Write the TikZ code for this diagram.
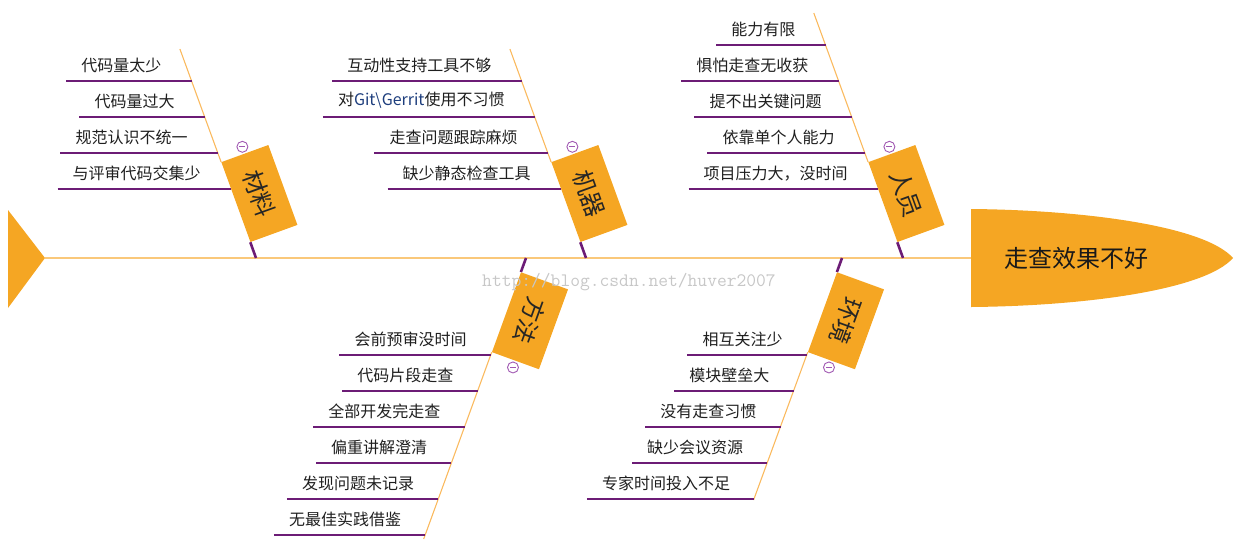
\documentclass[tikz,border=0pt]{standalone}
\usepackage{fontspec}
\newfontfamily\cjk{Noto Sans CJK SC}
\usetikzlibrary{positioning,calc}
\definecolor{boxorange}{RGB}{245,166,35}
\definecolor{spineorange}{RGB}{250,200,122}
\definecolor{boneorange}{RGB}{250,186,95}
\definecolor{subpurple}{RGB}{108,28,118}
\definecolor{markpurple}{RGB}{160,88,178}
\definecolor{gitblue}{RGB}{30,62,125}
\tikzset{
x=1pt,
y=1pt,
spine/.style={draw=spineorange, line width=1.8pt},
bone/.style={draw=boneorange, line width=1.1pt},
subline/.style={draw=subpurple, line width=2.6pt},
}

\begin{document}
\begin{tikzpicture}
    [cause/.style={font=\cjk\fontsize{16}{19}\selectfont, inner sep=0pt, text=black!88},
    catbox/.style={fill=boxorange, minimum width=85pt, minimum height=50pt, inner sep=0pt,
        font=\cjk\fontsize{24}{28}\selectfont, text=black!85},
    fold/.style={circle, draw=markpurple, fill=white, line width=0.9pt, minimum size=11pt, inner sep=0pt,
        path picture={\draw[markpurple, line width=0.9pt]
            ([xshift=2.5pt]path picture bounding box.west) -- ([xshift=-2.5pt]path picture bounding box.east);}}
    ]

    \useasboundingbox (0,0) rectangle (1240,-542);

    \fill[boxorange] (8,-210) -- (45,-258) -- (8,-308) -- cycle;
    \coordinate (tail) at (45,-258);
    \fill[boxorange] (971,-209) .. controls (1085,-210) and (1205,-226) .. (1233,-258)
        .. controls (1205,-290) and (1085,-306) .. (971,-307) -- cycle;
    \coordinate (neck) at (971,-258);
    \node [font=\cjk\fontsize{24}{28}\selectfont, text=black!90] (head) at (1076,-258) {走查效果不好};
    \draw[spine] (tail) -- (neck);

    \coordinate (cl0) at (256,-258);
    \coordinate (clt) at (179.9,-49);
    \coordinate (clb) at (221.1,-162);
    \node [catbox, rotate=-70, anchor=south west] (cl) at (clb) {材料};
    \draw[bone] (clt) -- (cl.south west);
    \draw[subline] (cl.south east) -- (cl0);
    \node [fold] (clf) at ($(cl.west)!-7pt!(cl.east)$) {};

    \coordinate (cl1) at (191.6,-81);
    \coordinate (cl2) at (204.7,-117);
    \coordinate (cl3) at (217.8,-153);
    \coordinate (cl4) at (230.9,-189);
    \node [cause] (cl1t) [above left=8pt and 30pt of cl1] {代码量太少};
    \node [cause] (cl2t) [above left=8pt and 30pt of cl2] {代码量过大};
    \node [cause] (cl3t) [above left=8pt and 30pt of cl3] {规范认识不统一};
    \node [cause] (cl4t) [above left=8pt and 30pt of cl4] {与评审代码交集少};
    \draw[subline] ([xshift=-15pt]cl1t.west |- cl1) -- (cl1);
    \draw[subline] ([xshift=-15pt]cl2t.west |- cl2) -- (cl2);
    \draw[subline] ([xshift=-15pt]cl3t.west |- cl3) -- (cl3);
    \draw[subline] ([xshift=-15pt]cl4t.west |- cl4) -- (cl4);

    \coordinate (jq0) at (586,-258);
    \coordinate (jqt) at (509.9,-49);
    \coordinate (jqb) at (551.1,-162);
    \node [catbox, rotate=-70, anchor=south west] (jq) at (jqb) {机器};
    \draw[bone] (jqt) -- (jq.south west);
    \draw[subline] (jq.south east) -- (jq0);
    \node [fold] (jqf) at ($(jq.west)!-7pt!(jq.east)$) {};

    \coordinate (jq1) at (521.6,-81);
    \coordinate (jq2) at (534.7,-117);
    \coordinate (jq3) at (547.8,-153);
    \coordinate (jq4) at (560.9,-189);
    \node [cause] (jq1t) [above left=8pt and 30pt of jq1] {互动性支持工具不够};
    \node [cause] (jq2t) [above left=8pt and 30pt of jq2] {对{\color{gitblue}Git\textbackslash Gerrit}使用不习惯};
    \node [cause] (jq3t) [above left=8pt and 30pt of jq3] {走查问题跟踪麻烦};
    \node [cause] (jq4t) [above left=8pt and 30pt of jq4] {缺少静态检查工具};
    \draw[subline] ([xshift=-15pt]jq1t.west |- jq1) -- (jq1);
    \draw[subline] ([xshift=-15pt]jq2t.west |- jq2) -- (jq2);
    \draw[subline] ([xshift=-15pt]jq3t.west |- jq3) -- (jq3);
    \draw[subline] ([xshift=-15pt]jq4t.west |- jq4) -- (jq4);

    \coordinate (ry0) at (903,-258);
    \coordinate (ryt) at (813.8,-13);
    \coordinate (ryb) at (868.1,-162);
    \node [catbox, rotate=-70, anchor=south west] (ry) at (ryb) {人员};
    \draw[bone] (ryt) -- (ry.south west);
    \draw[subline] (ry.south east) -- (ry0);
    \node [fold] (ryf) at ($(ry.west)!-7pt!(ry.east)$) {};

    \coordinate (ry1) at (825.5,-45);
    \coordinate (ry2) at (838.6,-81);
    \coordinate (ry3) at (851.7,-117);
    \coordinate (ry4) at (864.8,-153);
    \coordinate (ry5) at (877.9,-189);
    \node [cause] (ry1t) [above left=8pt and 30pt of ry1] {能力有限};
    \node [cause] (ry2t) [above left=8pt and 30pt of ry2] {惧怕走查无收获};
    \node [cause] (ry3t) [above left=8pt and 30pt of ry3] {提不出关键问题};
    \node [cause] (ry4t) [above left=8pt and 30pt of ry4] {依靠单个人能力};
    \node [cause] (ry5t) [above left=8pt and 30pt of ry5] {项目压力大，没时间};
    \draw[subline] ([xshift=-15pt]ry1t.west |- ry1) -- (ry1);
    \draw[subline] ([xshift=-15pt]ry2t.west |- ry2) -- (ry2);
    \draw[subline] ([xshift=-15pt]ry3t.west |- ry3) -- (ry3);
    \draw[subline] ([xshift=-15pt]ry4t.west |- ry4) -- (ry4);
    \draw[subline] ([xshift=-15pt]ry5t.west |- ry5) -- (ry5);

    \coordinate (ff0) at (526,-258);
    \coordinate (ffb) at (423.7,-539);
    \coordinate (fft) at (520.9,-272);
    \node [catbox, rotate=-110, anchor=south west] (ff) at (fft) {方法};
    \draw[subline] (ff0) -- (ff.south west);
    \draw[bone] (ff.south east) -- (ffb);
    \node [fold] (fff) at ($(ff.east)!-7pt!(ff.west)$) {};

    \coordinate (ff1) at (490.7,-355);
    \coordinate (ff2) at (477.6,-391);
    \coordinate (ff3) at (464.5,-427);
    \coordinate (ff4) at (451.4,-463);
    \coordinate (ff5) at (438.3,-499);
    \coordinate (ff6) at (425.2,-535);
    \node [cause] (ff1t) [above left=8pt and 24pt of ff1] {会前预审没时间};
    \node [cause] (ff2t) [above left=8pt and 24pt of ff2] {代码片段走查};
    \node [cause] (ff3t) [above left=8pt and 24pt of ff3] {全部开发完走查};
    \node [cause] (ff4t) [above left=8pt and 24pt of ff4] {偏重讲解澄清};
    \node [cause] (ff5t) [above left=8pt and 24pt of ff5] {发现问题未记录};
    \node [cause] (ff6t) [above left=8pt and 24pt of ff6] {无最佳实践借鉴};
    \draw[subline] ([xshift=-15pt]ff1t.west |- ff1) -- (ff1);
    \draw[subline] ([xshift=-15pt]ff2t.west |- ff2) -- (ff2);
    \draw[subline] ([xshift=-15pt]ff3t.west |- ff3) -- (ff3);
    \draw[subline] ([xshift=-15pt]ff4t.west |- ff4) -- (ff4);
    \draw[subline] ([xshift=-15pt]ff5t.west |- ff5) -- (ff5);
    \draw[subline] ([xshift=-15pt]ff6t.west |- ff6) -- (ff6);

    \coordinate (hj0) at (842,-258);
    \coordinate (hjb) at (753.6,-500);
    \coordinate (hjt) at (836.9,-272);
    \node [catbox, rotate=-110, anchor=south west] (hj) at (hjt) {环境};
    \draw[subline] (hj0) -- (hj.south west);
    \draw[bone] (hj.south east) -- (hjb);
    \node [fold] (hjf) at ($(hj.east)!-7pt!(hj.west)$) {};

    \coordinate (hj1) at (806.7,-355);
    \coordinate (hj2) at (793.6,-391);
    \coordinate (hj3) at (780.5,-427);
    \coordinate (hj4) at (767.4,-463);
    \coordinate (hj5) at (754.3,-499);
    \node [cause] (hj1t) [above left=8pt and 24pt of hj1] {相互关注少};
    \node [cause] (hj2t) [above left=8pt and 24pt of hj2] {模块壁垒大};
    \node [cause] (hj3t) [above left=8pt and 24pt of hj3] {没有走查习惯};
    \node [cause] (hj4t) [above left=8pt and 24pt of hj4] {缺少会议资源};
    \node [cause] (hj5t) [above left=8pt and 24pt of hj5] {专家时间投入不足};
    \draw[subline] ([xshift=-15pt]hj1t.west |- hj1) -- (hj1);
    \draw[subline] ([xshift=-15pt]hj2t.west |- hj2) -- (hj2);
    \draw[subline] ([xshift=-15pt]hj3t.west |- hj3) -- (hj3);
    \draw[subline] ([xshift=-15pt]hj4t.west |- hj4) -- (hj4);
    \draw[subline] ([xshift=-15pt]hj5t.west |- hj5) -- (hj5);

    \node [font=\ttfamily\fontsize{19}{22}\selectfont, text=black!22] (wm) at (629,-282) {http://blog.csdn.net/huver2007};

\end{tikzpicture}
\end{document}
